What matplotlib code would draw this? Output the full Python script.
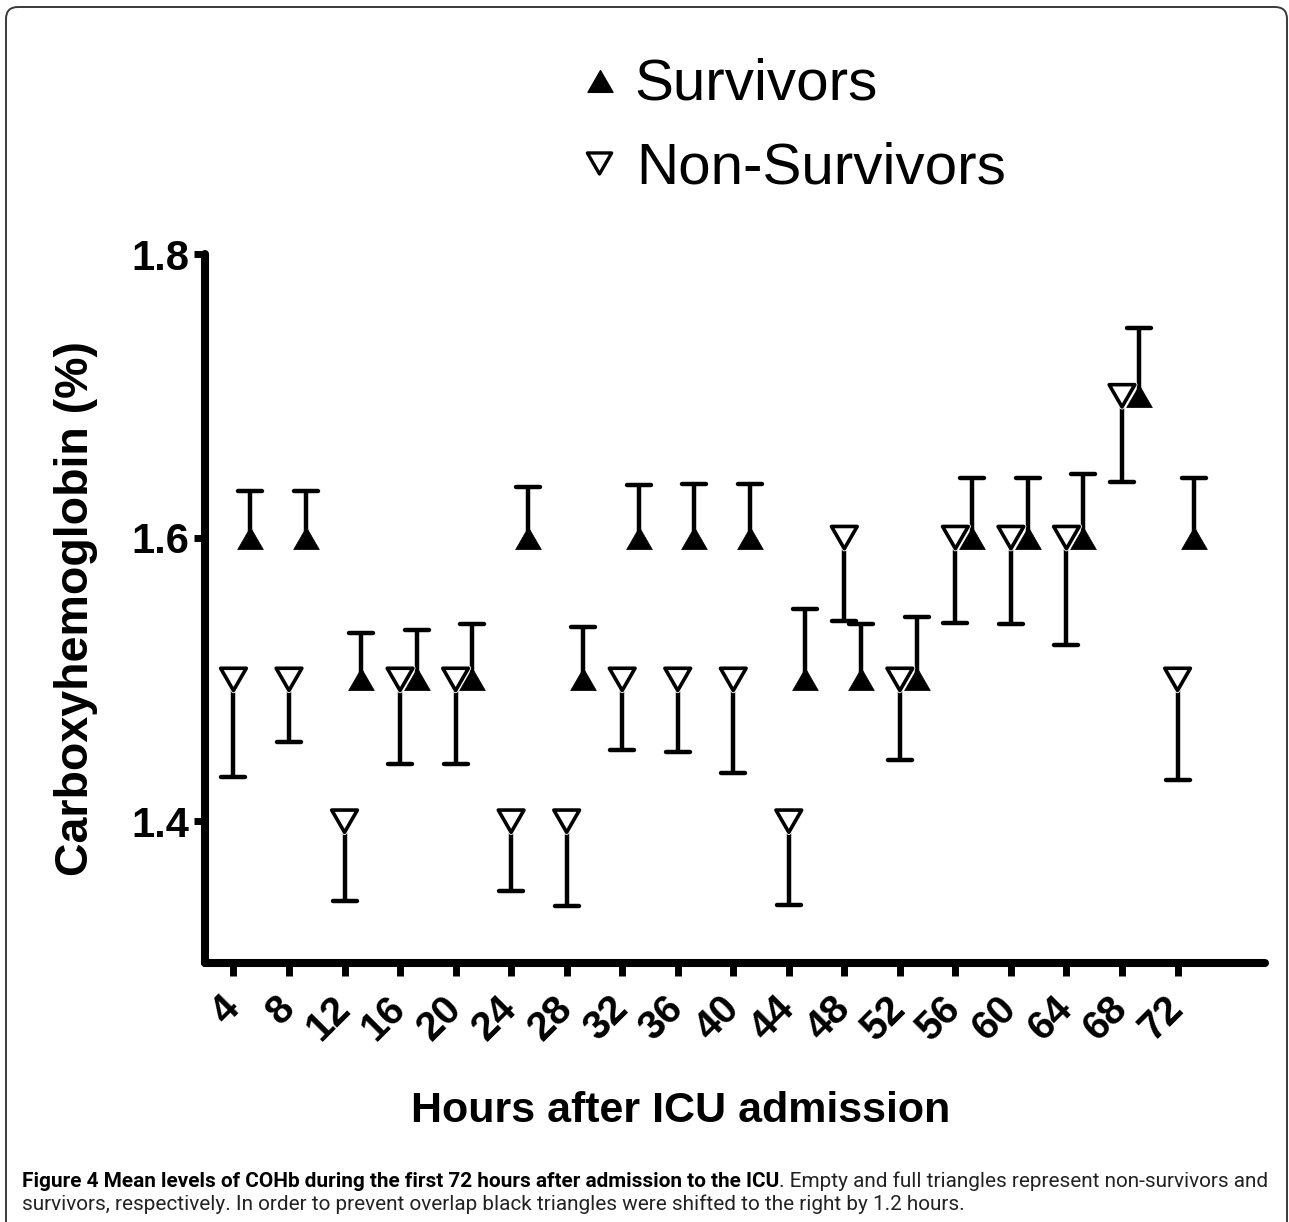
import matplotlib
matplotlib.use("Agg")
import matplotlib.pyplot as plt
import numpy as np
from matplotlib.markers import MarkerStyle
from matplotlib.path import Path
from matplotlib.patches import FancyBboxPatch
from matplotlib.lines import Line2D
from matplotlib.text import Annotation
import matplotlib.transforms as mtransforms
import matplotlib.patheffects as pe
from matplotlib import font_manager

# ---------------- data ----------------
hours = [4, 8, 12, 16, 20, 24, 28, 32, 36, 40, 44, 48, 52, 56, 60, 64, 68, 72]
tick_labels = [str(h) for h in hours]
survivors_mean = [1.6, 1.6, 1.5, 1.5, 1.5, 1.6, 1.5, 1.6, 1.6, 1.6, 1.5, 1.5, 1.5, 1.6, 1.6, 1.6, 1.7, 1.6]
survivors_sem = [0.033, 0.033, 0.033, 0.035, 0.039, 0.036, 0.037, 0.037, 0.038, 0.038, 0.050, 0.039, 0.044, 0.042, 0.042, 0.045, 0.048, 0.042]
nonsurvivors_mean = [1.5, 1.5, 1.4, 1.5, 1.5, 1.4, 1.4, 1.5, 1.5, 1.5, 1.4, 1.6, 1.5, 1.6, 1.6, 1.6, 1.7, 1.5]
nonsurvivors_sem = [0.069, 0.044, 0.056, 0.060, 0.060, 0.049, 0.060, 0.050, 0.051, 0.066, 0.059, 0.059, 0.057, 0.060, 0.061, 0.076, 0.061, 0.071]
shift_hours = 1.2
yticks = [1.4, 1.6, 1.8]
ytick_labels = ["1.4", "1.6", "1.8"]
legend_labels = ["Survivors", "Non-Survivors"]
xlabel = "Hours after ICU admission"
ylabel = "Carboxyhemoglobin (%)"
caption_bold = "Figure 4 Mean levels of COHb during the first 72 hours after admission to the ICU"
caption_rest1 = ". Empty and full triangles represent non-survivors and"
caption_line2 = "survivors, respectively. In order to prevent overlap black triangles were shifted to the right by 1.2 hours."

# ---------------- fonts ----------------
available = {f.name for f in font_manager.fontManager.ttflist}
SANS = "Liberation Sans" if "Liberation Sans" in available else "DejaVu Sans"
cap_family = None
for cand in ["Liberation Sans Narrow", "Roboto", "Open Sans", "Noto Sans", "Lato"]:
    if cand in available:
        cap_family = cand
        break
if cap_family is None:
    cap_family = "DejaVu Sans"
plt.rcParams["font.family"] = [SANS, "DejaVu Sans"]

# ---------------- figure ----------------
W, H = 1289, 1222
DPI = 100
fig = plt.figure(figsize=(W / DPI, H / DPI), dpi=DPI)
fig.patch.set_facecolor("white")


def fx(px):
    return px / W


def fy(py):
    return 1 - py / H


ax = fig.add_axes([fx(205), fy(963), fx(1265) - fx(205), fy(254) - fy(963)])
ax.set_xlim(1.95, 78.3)
ax.set_ylim(1.3, 1.8)

for s in ["top", "right"]:
    ax.spines[s].set_visible(False)
for s in ["left", "bottom"]:
    ax.spines[s].set_linewidth(5.8)
    ax.spines[s].set_capstyle("round")

ax.set_yticks(yticks)
ax.set_yticklabels(ytick_labels, fontsize=30, fontweight="bold")
ax.set_xticks(hours)
ax.set_xticklabels(tick_labels, rotation=45, ha="right", va="top", fontsize=29, fontweight="bold")
ax.tick_params(axis="y", direction="out", length=8, width=5, pad=3)
ax.tick_params(axis="x", direction="out", length=9, width=5, pad=10)
offset = mtransforms.ScaledTranslation(13 / DPI, 0, fig.dpi_scale_trans)
for lab in ax.get_xticklabels():
    lab.set_transform(lab.get_transform() + offset)

# triangle markers (equilateral, box-centred)
tri_up = MarkerStyle(Path([(0, 0.5), (-0.577, -0.5), (0.577, -0.5), (0, 0.5)], closed=True))
tri_dn = MarkerStyle(Path([(0, -0.5), (-0.577, 0.5), (0.577, 0.5), (0, -0.5)], closed=True))
cap_marker = MarkerStyle("_", capstyle="round")

hrs = np.asarray(hours, dtype=float)
s_mean = np.asarray(survivors_mean)
s_sem = np.asarray(survivors_sem)
n_mean = np.asarray(nonsurvivors_mean)
n_sem = np.asarray(nonsurvivors_sem)
xs_s = hrs + shift_hours

LW = 3.2
# survivors: error bars upward
ax.vlines(xs_s, s_mean, s_mean + s_sem, colors="black", lw=LW, zorder=2)
ax.plot(xs_s, s_mean + s_sem, ls="none", marker=cap_marker, ms=17, mew=LW, color="black", zorder=2)
ax.plot(xs_s, s_mean, ls="none", marker=tri_up, ms=18.5, color="black", mec="black", mew=0.5, zorder=3,
        clip_on=False)

# non-survivors: error bars downward
ax.vlines(hrs, n_mean - n_sem, n_mean, colors="black", lw=LW, zorder=4)
ax.plot(hrs, n_mean - n_sem, ls="none", marker=cap_marker, ms=17, mew=LW, color="black", zorder=4)
ax.plot(hrs, n_mean, ls="none", marker=tri_dn, ms=18.5, mfc="white", mec="black", mew=2.6, zorder=5,
        clip_on=False,
        path_effects=[pe.Stroke(linewidth=3.8, foreground="white"), pe.Normal()])

# ---------------- legend ----------------
fig.add_artist(Line2D([fx(600)], [fy(81)], marker=tri_up, ms=18, color="black", ls="none",
                      transform=fig.transFigure))
fig.add_artist(Line2D([fx(599)], [fy(163)], marker=tri_dn, ms=17.5, mfc="white", mec="black", mew=2.4,
                      ls="none", transform=fig.transFigure))
fig.text(fx(634), fy(100), legend_labels[0], fontsize=42, va="baseline", ha="left")
fig.text(fx(636), fy(183), legend_labels[1], fontsize=42, va="baseline", ha="left")

# ---------------- axis labels ----------------
fig.text(fx(76), fy(608), ylabel, rotation=90, ha="center", va="center", fontsize=33.5, fontweight="bold")
fig.text(fx(681), fy(1122), xlabel, ha="center", va="baseline", fontsize=31, fontweight="bold")

# ---------------- border ----------------
border = FancyBboxPatch((6 / DPI, -0.5), (1287 - 6) / DPI, (H - 7) / DPI + 0.5,
                        boxstyle="round,pad=0,rounding_size=0.12",
                        transform=fig.dpi_scale_trans, facecolor="none",
                        edgecolor="#3a3a3a", lw=1.4)
fig.add_artist(border)

# ---------------- caption ----------------
fs = 14
t1 = fig.text(fx(22), fy(1187), caption_bold, fontsize=fs, fontweight="bold", family=cap_family,
              va="baseline", ha="left")
t2 = Annotation(caption_rest1, xy=(1, 0), xycoords=t1, va="bottom", ha="left",
                fontsize=fs, family=cap_family, color="#222222")
fig.add_artist(t2)
t3 = fig.text(fx(22), fy(1210), caption_line2, fontsize=fs, family=cap_family, va="baseline",
              ha="left", color="#222222")

fig.canvas.draw()
r = fig.canvas.get_renderer()
w1 = t1.get_window_extent(r).width + t2.get_window_extent(r).width
target = 1275 - 22
scale = target / w1
for t in (t1, t2, t3):
    t.set_fontsize(fs * scale)

fig.savefig("out.png", dpi=DPI, facecolor="white")
